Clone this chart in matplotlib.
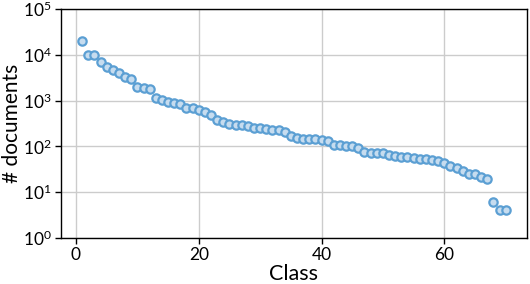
import numpy as np
import matplotlib
matplotlib.use("Agg")
import matplotlib.pyplot as plt

plt.rcParams["font.family"] = ["Lato", "DejaVu Sans"]
plt.rcParams["mathtext.default"] = "regular"

# documents per class (sorted, descending)
classes = list(range(1, 71))
docs = [20000, 10000, 10000, 6970, 5500, 4590, 4010, 3230, 2960, 2010,
        1850, 1790, 1160, 1015, 946, 900, 843, 700, 680, 640,
        572, 485, 377, 336, 313, 289, 289, 274, 256, 248,
        236, 232, 228, 203, 169, 152, 143, 143, 143, 138,
        129, 107, 106, 104, 100, 91, 77, 73, 73, 71,
        66, 62, 60, 58, 57, 53, 52, 51, 49, 44,
        38, 33, 29, 25, 25, 21, 19, 6, 4, 4]

fig = plt.figure(figsize=(5.3, 2.84), dpi=100)
ax = fig.add_axes([0.115, 0.162, 0.879, 0.806])

ax.plot(classes, docs, linestyle="none", marker="o", markersize=6,
        markerfacecolor="#c6dcef", markeredgecolor="#5b9fd3",
        markeredgewidth=1.6)

ax.set_yscale("log")
ax.set_ylim(1, 1e5)
ax.set_xticks([0, 20, 40, 60])
ax.minorticks_off()
ax.grid(True, color="#cccccc", linewidth=1)
ax.set_axisbelow(True)
ax.tick_params(labelsize=12.5, length=4, width=1, pad=2.5)
for s in ax.spines.values():
    s.set_linewidth(1)
ax.set_xlabel("Class", fontsize=15.5, labelpad=1)
ax.set_ylabel("# documents", fontsize=15)
ax.yaxis.set_label_coords(-0.083, 0.5)

fig.savefig("out.png", dpi=100)
